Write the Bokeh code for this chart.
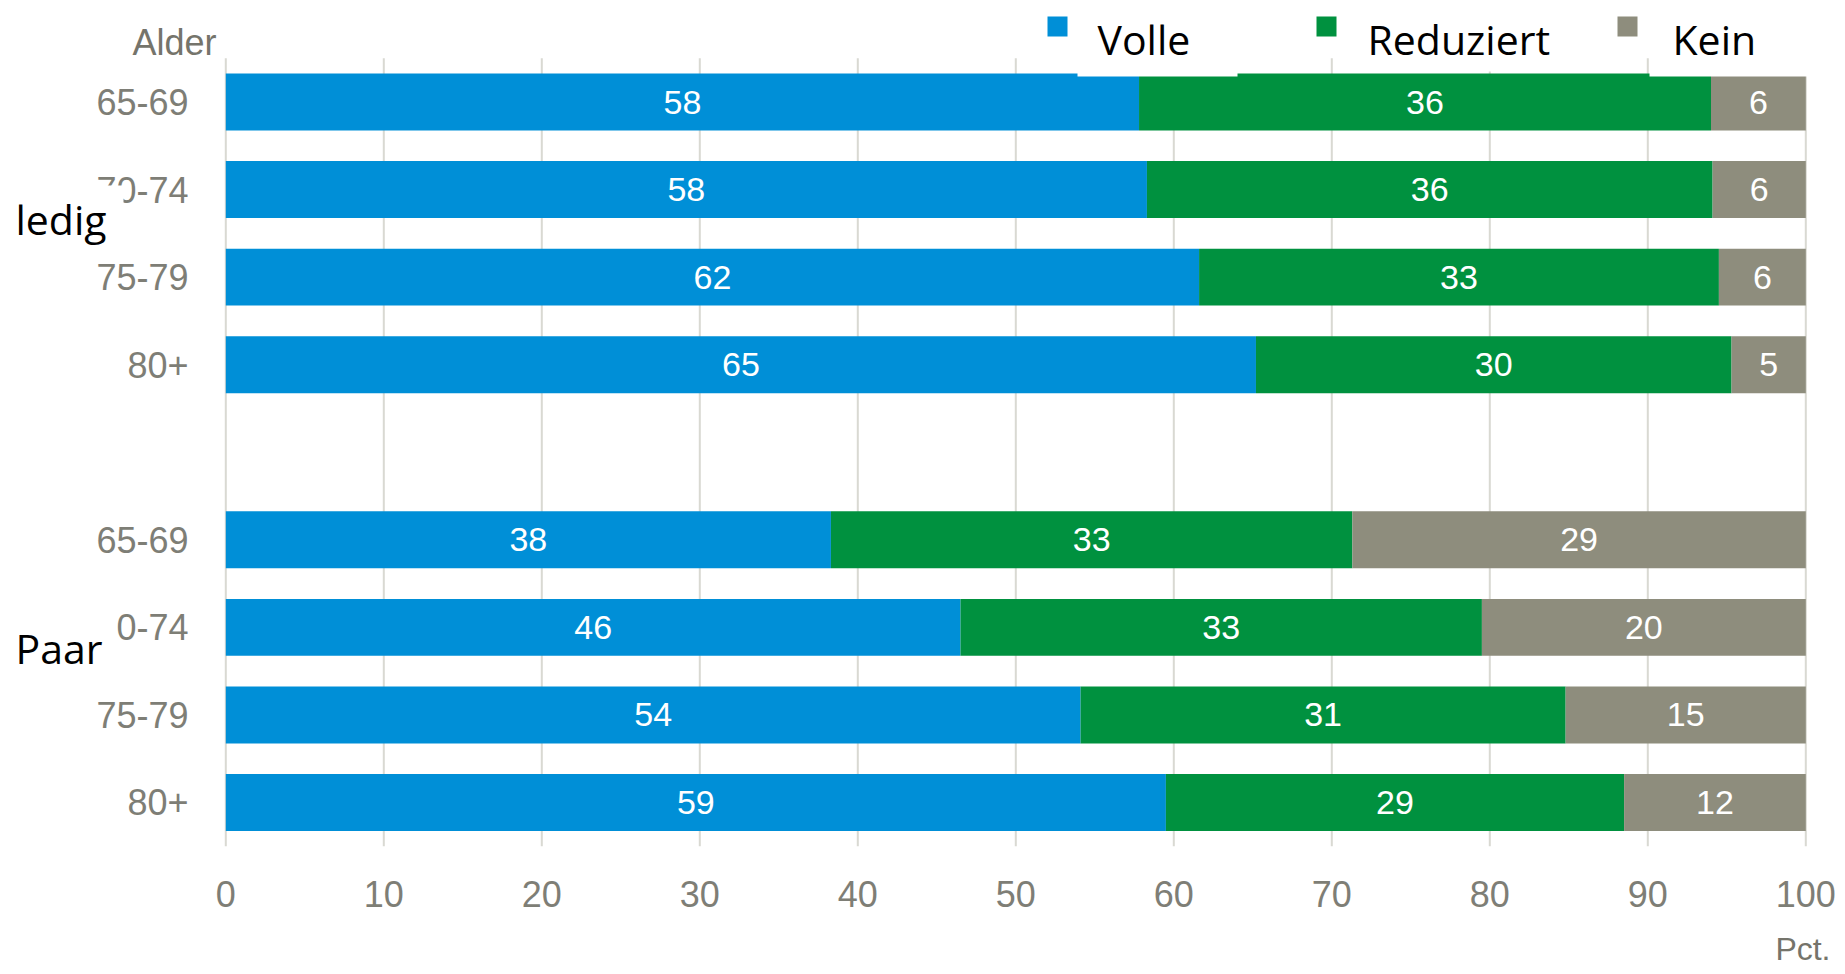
from bokeh.plotting import figure
from bokeh.models import Range1d, ColumnDataSource
from bokeh.core.properties import value
from bokeh.embed import file_html
from bokeh.resources import INLINE

# ---------------- data ----------------
groups = ["ledig", "Paar"]
ages = ["65-69", "70-74", "75-79", "80+"]
series = ["Volle", "Reduziert", "Kein"]
colors = ["#008FD7", "#00913F", "#8E8D7D"]

# bar lengths (ledig 65-69 .. 80+, then Paar 65-69 .. 80+)
volle = [57.8, 58.3, 61.6, 65.2, 38.3, 46.5, 54.1, 59.5]
reduziert = [36.2, 35.8, 32.9, 30.1, 33.0, 33.0, 30.7, 29.0]
kein = [6.0, 5.9, 5.5, 4.7, 28.7, 20.5, 15.2, 11.5]

# printed value labels
volle_lbl = ["58", "58", "62", "65", "38", "46", "54", "59"]
reduziert_lbl = ["36", "36", "33", "30", "33", "33", "31", "29"]
kein_lbl = ["6", "6", "6", "5", "29", "20", "15", "12"]

x_ticks = [0, 10, 20, 30, 40, 50, 60, 70, 80, 90, 100]
x_title = "Pct."
y_title = "Alder"

# ---------------- geometry (whole canvas is the plotting frame) ----------------
W, H = 1840, 970
PX0, PXU = 225.3, 15.8     # pixel of value 0, pixels per percent
PY0, PYU = 101.5, 87.56    # pixel of slot 0, pixels per slot

def dx(px):
    return (px - PX0) / PXU

def dy(py):
    return (py - PY0) / PYU

slots = []
for gi, g in enumerate(groups):
    for ai, a in enumerate(ages):
        slots.append(gi * (len(ages) + 1) + ai)
slot_text = ages * len(groups)

p = figure(width=W, height=H, output_backend="svg", toolbar_location=None,
           x_range=Range1d(dx(0), dx(W)), y_range=Range1d(dy(H), dy(0)),
           x_axis_type=None, y_axis_type=None,
           min_border=0, min_border_left=0, min_border_right=0,
           min_border_top=0, min_border_bottom=0)
p.outline_line_color = None
p.background_fill_color = "white"
p.border_fill_color = "white"

TICK_FONT = value("Liberation Sans")
LBL_FONT = value("Open Sans")
TICK_COLOR = "#7e7e76"
TITLE_COLOR = "#75746b"

# vertical grid lines
y_lo, y_hi = min(slots) - 0.5, max(slots) + 0.5
p.segment(x0=x_ticks, x1=x_ticks, y0=[y_lo] * len(x_ticks), y1=[y_hi] * len(x_ticks),
          line_color="#d9d9d2", line_width=2)

# x tick labels
p.text(x=x_ticks, y=[y_hi + 48 / PYU] * len(x_ticks), text=[str(t) for t in x_ticks],
       text_font=TICK_FONT, text_font_size="36px", text_color=TICK_COLOR,
       text_align="center", text_baseline="middle")

# y tick labels
p.text(x=[dx(188)] * len(slots), y=slots, text=slot_text,
       text_font=TICK_FONT, text_font_size="36px", text_color=TICK_COLOR,
       text_align="right", text_baseline="middle")

# axis titles
p.text(x=[dx(132)], y=[dy(42)], text=[y_title], text_font=TICK_FONT,
       text_font_size="36px", text_color=TITLE_COLOR, text_baseline="middle")
p.text(x=[dx(1830)], y=[dy(948)], text=[x_title], text_font=TICK_FONT,
       text_font_size="32px", text_color=TITLE_COLOR, text_baseline="middle",
       text_align="right")

# ---------------- bars ----------------
lefts = [0.0] * len(slots)
for vals, lbls, col in zip([volle, reduziert, kein],
                           [volle_lbl, reduziert_lbl, kein_lbl], colors):
    rights = [l + v for l, v in zip(lefts, vals)]
    mids = [(l + r) / 2 for l, r in zip(lefts, rights)]
    src = ColumnDataSource(dict(y=slots, left=lefts, right=rights, mid=mids, lbl=lbls))
    p.hbar(y="y", left="left", right="right", height=0.65, source=src,
           fill_color=col, line_color=None)
    p.text(x="mid", y="y", text="lbl", source=src,
           text_font=TICK_FONT, text_font_size="34px",
           text_color="white", text_align="center", text_baseline="middle")
    lefts = rights

# ---------------- white text boxes (group names and legend) ----------------
box_l = [10, 10, 1077, 1345, 1649]
box_r = [123, 116, 1237, 1573, 1807]
box_t = [185, 606, 0, 0, 0]
box_b = [250, 680, 76, 71, 76]
p.quad(left=[dx(v) for v in box_l], right=[dx(v) for v in box_r],
       top=[dy(v) for v in box_t], bottom=[dy(v) for v in box_b],
       fill_color="white", line_color=None)

# group names
p.text(x=[dx(15), dx(15)], y=[dy(218), dy(647)], text=groups, text_font=LBL_FONT,
       text_font_size="41px", text_color="black", text_baseline="middle")

# legend squares and names
p.scatter(x=[dx(1057), dx(1326), dx(1627)], y=[dy(26)] * 3, marker="square",
          size=20, fill_color=colors, line_color=None)
p.text(x=[dx(1097), dx(1367), dx(1672)], y=[dy(38)] * 3, text=series,
       text_font=LBL_FONT, text_font_size="41px", text_color="black",
       text_baseline="middle")

open("out.html", "w").write(file_html(p, INLINE))
